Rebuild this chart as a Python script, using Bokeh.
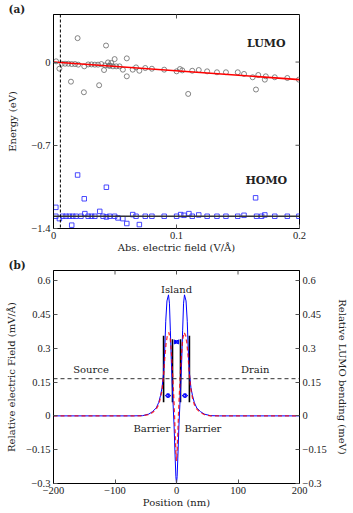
import math
from bokeh.plotting import figure
from bokeh.layouts import column
from bokeh.models import (Range1d, LinearAxis, FixedTicker, Label, Span, Arrow,
                          NormalHead, Title)
from bokeh.embed import file_html
from bokeh.resources import INLINE

# ---------------- Panel (a) data ----------------
lumo_x = [0.0021, 0.0048, 0.0067, 0.0094, 0.0121, 0.0148, 0.0175, 0.0201, 0.0196, 0.0142,
          0.0247, 0.0250, 0.0282, 0.0309, 0.0336, 0.0362, 0.0389, 0.0371, 0.0427, 0.0411,
          0.0443, 0.0470, 0.0497, 0.0451, 0.0483, 0.0510, 0.0537, 0.0564, 0.0596, 0.0596,
          0.0644, 0.0671, 0.0698, 0.0746, 0.0800, 0.0900, 0.1001, 0.1028, 0.1047, 0.1095,
          0.1128, 0.1181, 0.1249, 0.1329, 0.1402, 0.1498, 0.1549, 0.1619, 0.1646, 0.1665,
          0.1718, 0.1726, 0.1799, 0.1901, 0.1995, 0.0420, 0.0460]
lumo_y = [0.006, -0.056, -0.014, -0.014, -0.014, -0.017, -0.017, -0.022, 0.201, -0.165,
          -0.254, -0.036, -0.020, -0.020, -0.022, -0.022, -0.017, -0.195, 0.139, -0.067,
          -0.003, -0.008, 0.025, -0.031, -0.036, -0.036, -0.036, -0.064, 0.031, -0.120,
          -0.064, -0.045, -0.073, -0.050, -0.056, -0.064, -0.078, -0.059, -0.070, -0.268,
          -0.073, -0.067, -0.078, -0.086, -0.086, -0.086, -0.100, -0.128, -0.231, -0.109,
          -0.148, -0.120, -0.128, -0.134, -0.148, -0.028, -0.030]

homo_x = [0.0019, 0.0019, 0.0048, 0.0075, 0.0102, 0.0129, 0.0156, 0.0183, 0.0223, 0.0148,
          0.0196, 0.0250, 0.0255, 0.0282, 0.0309, 0.0336, 0.0376, 0.0430, 0.0403, 0.0430,
          0.0456, 0.0497, 0.0524, 0.0564, 0.0596, 0.0644, 0.0671, 0.0698, 0.0746, 0.0800,
          0.0900, 0.1001, 0.1034, 0.1061, 0.1101, 0.1128, 0.1181, 0.1249, 0.1329, 0.1402,
          0.1498, 0.1549, 0.1643, 0.1651, 0.1692, 0.1718, 0.1799, 0.1901, 0.1995]
homo_y = [-1.222, -1.297, -1.317, -1.297, -1.297, -1.297, -1.297, -1.297, -1.297, -1.372,
          -0.950, -1.150, -1.275, -1.297, -1.297, -1.297, -1.256, -1.053, -1.297, -1.303,
          -1.297, -1.297, -1.311, -1.317, -1.358, -1.283, -1.297, -1.367, -1.297, -1.297,
          -1.297, -1.297, -1.283, -1.289, -1.275, -1.297, -1.286, -1.297, -1.297, -1.297,
          -1.297, -1.289, -1.142, -1.297, -1.297, -1.286, -1.297, -1.297, -1.297]

lumo_fit_x = [0.0, 0.2]
lumo_fit_y = [0.0, -0.148]
homo_fit_x = [0.0, 0.2]
homo_fit_y = [-1.297, -1.297]
threshold_field = 0.0056

a_xticks = [0, 0.1, 0.2]
a_xlabels = ["0", "0.1", "0.2"]
a_yticks = [0, -0.7, -1.4]
a_ylabels = ["0", "\u22120.7", "\u22121.4"]

# ---------------- Panel (b) data ----------------
field_x = [-200, -100, -70, -55, -45, -39, -33, -29, -26, -23.5, -21, -19, -17.5, -15.5, -13,
           -11.5, -10, -8.5, -7, -5.5, -4, -2.5, -1, 0,
           1, 2.5, 4, 5.5, 7, 8.5, 10, 11.5, 13, 15.5, 17.5, 19, 21, 23.5, 26, 29, 33, 39,
           45, 55, 70, 100, 200]
field_y = [0, 0, 0, 0.001, 0.008, 0.019, 0.035, 0.059, 0.09, 0.125, 0.19, 0.30, 0.42, 0.51, 0.537,
           0.50, 0.38, 0.25, 0.14, 0.05, -0.04, -0.16, -0.27, -0.30,
           -0.27, -0.16, -0.04, 0.05, 0.14, 0.25, 0.38, 0.50, 0.537, 0.51, 0.42, 0.30, 0.19, 0.125,
           0.09, 0.059, 0.035, 0.019, 0.008, 0.001, 0, 0, 0]

bend_x = [-200, -100, -70, -55, -45, -39, -33, -29, -26, -23.5, -21, -19, -17, -15, -12.5,
          -10, -8, -6, -4, -2.5, -1, 0,
          1, 2.5, 4, 6, 8, 10, 12.5, 15, 17, 19, 21, 23.5, 26, 29, 33, 39, 45, 55, 70, 100, 200]
bend_y = [0, 0, 0, 0, 0.006, 0.015, 0.03, 0.05, 0.08, 0.115, 0.18, 0.26, 0.32, 0.355, 0.37,
          0.34, 0.27, 0.17, 0.06, -0.05, -0.16, -0.20,
          -0.16, -0.05, 0.06, 0.17, 0.27, 0.34, 0.37, 0.355, 0.32, 0.26, 0.18, 0.115, 0.08,
          0.05, 0.03, 0.015, 0.006, 0, 0, 0, 0]

barrier_x = [-21, -6.5, 6.5, 21]
barrier_top = [0.355, 0.34, 0.34, 0.355]
barrier_bottom = [0.06, 0.06, 0.06, 0.06]
source_drain_level = 0.165

b_xticks = [-200, -100, 0, 100, 200]
b_xlabels = ["\u2212200", "\u2212100", "0", "100", "200"]
b_yticks = [-0.3, -0.15, 0, 0.15, 0.3, 0.45, 0.6]
b_ylabels = ["\u22120.3", "\u22120.15", "0", "0.15", "0.3", "0.45", "0.6"]

TICKFONT = "Liberation Serif"
FONT = "DejaVu Serif"
TXT = "#222222"
TICK = "#555555"
W = 350
BL, BR = 53, 48


def style_axis(ax, ticks, labels):
    ax.ticker = FixedTicker(ticks=ticks)
    ax.major_label_overrides = {t: l for t, l in zip(ticks, labels)}
    ax.major_tick_in = 4
    ax.major_tick_out = 0
    ax.minor_tick_line_color = None
    ax.axis_line_color = "black"
    ax.major_tick_line_color = TICK
    ax.major_label_text_font = TICKFONT
    ax.major_label_text_font_size = "10.5px"
    ax.major_label_text_color = TXT
    ax.major_label_standoff = 3
    ax.axis_label_text_font = FONT
    ax.axis_label_text_font_size = "10px"
    ax.axis_label_text_font_style = "normal"
    ax.axis_label_text_color = TXT


def panel_title(p, text):
    t = Title(text=text, align="left", offset=-45, standoff=0, text_font=FONT,
              text_font_size="10.5px", text_font_style="bold", text_color=TXT)
    p.add_layout(t, "above")


def note(p, txt, x, y, bold=False, size="10px"):
    p.add_layout(Label(x=x, y=y, text=txt, text_font=FONT, text_font_size=size,
                       text_font_style="bold" if bold else "normal",
                       text_align="center", text_baseline="middle", text_color=TXT))


# ---------------- Figure (a) ----------------
pa = figure(width=W, height=256, output_backend="svg", toolbar_location=None,
            x_range=Range1d(0, 0.2), y_range=Range1d(-1.4, 0.4),
            min_border_left=BL, min_border_right=BR, min_border_top=14, min_border_bottom=28)
pa.grid.visible = False
pa.outline_line_color = "black"
panel_title(pa, "(a)")
style_axis(pa.xaxis[0], a_xticks, a_xlabels)
style_axis(pa.yaxis[0], a_yticks, a_ylabels)
pa.xaxis[0].axis_label = "Abs. electric field (V/\u00c5)"
pa.xaxis[0].axis_label_standoff = 0
pa.yaxis[0].axis_label = "Energy (eV)"
pa.yaxis[0].axis_label_standoff = 10

# mirrored ticks (top and right edges)
pa.scatter(a_xticks, [pa.y_range.end] * len(a_xticks), marker="dash", angle=math.pi / 2,
           size=8, line_color=TICK, line_width=1)
pa.scatter([pa.x_range.end] * len(a_yticks), a_yticks, marker="dash", angle=0,
           size=8, line_color=TICK, line_width=1)

pa.add_layout(Span(location=threshold_field, dimension="height", line_color="black",
                   line_dash="3 2", line_width=1))
pa.scatter(lumo_x, lumo_y, marker="circle", size=5, fill_color=None,
           line_color="#666666", line_width=0.8)
pa.line(lumo_fit_x, lumo_fit_y, line_color="#ff0000", line_width=1.6)
pa.scatter(homo_x, homo_y, marker="square", size=4.5, fill_color=None,
           line_color="#2a2aff", line_width=1, line_alpha=0.85)
pa.line(homo_fit_x, homo_fit_y, line_color="#333333", line_width=1.4)

note(pa, "LUMO", 0.173, 0.16, bold=True, size="11px")
note(pa, "HOMO", 0.173, -1.0, bold=True, size="11px")

# ---------------- Figure (b) ----------------
pb = figure(width=W, height=254, output_backend="svg", toolbar_location=None,
            x_range=Range1d(-200, 200), y_range=Range1d(-0.3, 0.645),
            min_border_left=BL, min_border_right=BR, min_border_top=13, min_border_bottom=27)
pb.grid.visible = False
pb.outline_line_color = "black"
panel_title(pb, "(b)")
style_axis(pb.xaxis[0], b_xticks, b_xlabels)
style_axis(pb.yaxis[0], b_yticks, b_ylabels)
pb.xaxis[0].axis_label = "Position (nm)"
pb.xaxis[0].axis_label_standoff = 0
pb.xaxis[0].major_label_standoff = 3
pb.yaxis[0].axis_label = "Relative electric Field (mV/\u00c5)"
pb.yaxis[0].axis_label_standoff = 6
rb = LinearAxis()
style_axis(rb, b_yticks, b_ylabels)
rb.axis_label = "Relative LUMO bending (meV)"
rb.axis_label_standoff = 7
pb.add_layout(rb, "right")
pb.scatter(b_xticks, [pb.y_range.end] * len(b_xticks), marker="dash", angle=math.pi / 2,
           size=8, line_color=TICK, line_width=1)

pb.add_layout(Span(location=source_drain_level, dimension="width", line_color="#333333",
                   line_dash="4 3", line_width=1))
pb.segment(x0=barrier_x, y0=barrier_bottom, x1=barrier_x, y1=barrier_top,
           line_color="black", line_width=1.6)
pb.line(field_x, field_y, line_color="#0000ff", line_width=1.0)
pb.line(bend_x, bend_y, line_color="#ff0000", line_width=1.3, line_dash="4 3", line_alpha=0.8)

arrow_y = 0.09
for i in (0, 2):
    x0 = barrier_x[i] + 2.5
    x1 = barrier_x[i + 1] - 2.5
    pb.add_layout(Arrow(x_start=x0, y_start=arrow_y, x_end=x1, y_end=arrow_y,
                        line_color="#0000ff", line_width=1, line_dash="2 1",
                        start=NormalHead(size=4, fill_color=None, line_color="#0000ff", line_width=1),
                        end=NormalHead(size=4, fill_color=None, line_color="#0000ff", line_width=1)))
pb.add_layout(Arrow(x_start=-3, y_start=0.328, x_end=3, y_end=0.328,
                    line_color="#0000ff", line_width=1,
                    start=NormalHead(size=4, fill_color="#3355ff", line_color="#0000ff", line_width=1),
                    end=NormalHead(size=4, fill_color="#3355ff", line_color="#0000ff", line_width=1)))

note(pb, "Source", -139, 0.205)
note(pb, "Drain", 128, 0.205)
note(pb, "Island", 0, 0.56)
note(pb, "Barrier", -40, -0.057)
note(pb, "Barrier", 43, -0.057)

layout = column(pa, pb, spacing=0)
open("out.html", "w").write(file_html(layout, INLINE))
